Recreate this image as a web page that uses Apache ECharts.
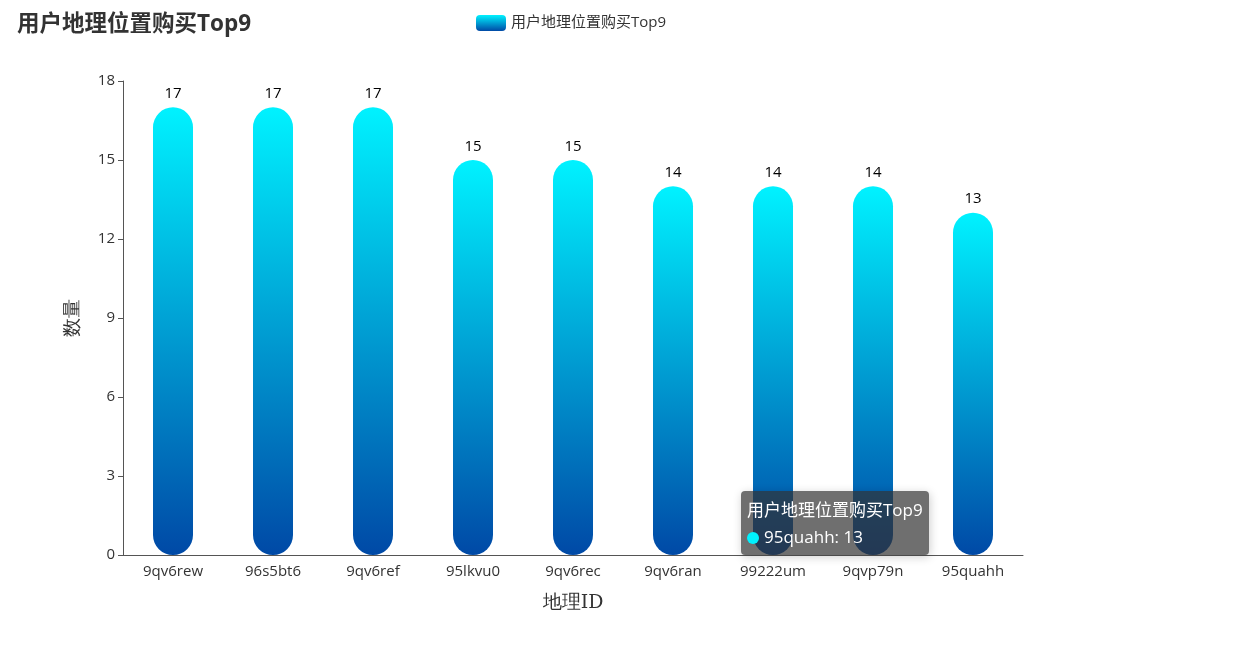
<!DOCTYPE html>
<html><head><meta charset="utf-8">
<script src="https://cdn.jsdelivr.net/npm/echarts@6/dist/echarts.min.js"></script>
<style>html,body{margin:0;padding:0;background:#fff}#c{width:1247px;height:670px}</style>
</head><body><div id="c"></div>
<script>
const categories = ['9qv6rew','96s5bt6','9qv6ref','95lkvu0','9qv6rec','9qv6ran','99222um','9qvp79n','95quahh'];
const values = [17,17,17,15,15,14,14,14,13];
const yTicks = {min:0, max:18, interval:3};
const seriesName = '用户地理位置购买Top9';

const font = '"Open Sans","Noto Sans CJK SC",sans-serif';
const serif = '"DejaVu Serif","Liberation Serif",serif';
const chart = echarts.init(document.getElementById('c'));
const grad = new echarts.graphic.LinearGradient(0,0,0,1,[{offset:0,color:'#00F2FF'},{offset:1,color:'#0049A6'}]);
chart.setOption({
  animation:false,
  textStyle:{fontFamily:font},
  title:{text:seriesName,left:12,top:8,textStyle:{fontSize:22.5,fontWeight:'bold',color:'#333',fontFamily:font}},
  legend:{top:10,left:471,itemWidth:30,itemHeight:16,itemGap:8,textStyle:{fontSize:15,color:'#333'}},
  tooltip:{trigger:'item',transitionDuration:0,backgroundColor:'rgba(50,50,50,0.7)',borderWidth:0,
    padding:[5,6],
    textStyle:{color:'#fff',fontSize:17,lineHeight:27,fontFamily:font},
    position:function(){return [741,491];},
    formatter:function(p){return '<div style="line-height:27px">'+p.seriesName+'<br/><span style="display:inline-block;vertical-align:middle;margin-right:5px;border-radius:50%;width:12px;height:12px;background-color:#00F2FF;"></span>'+p.name+': '+p.value+'</div>';}},
  grid:{left:123,right:224,top:81,bottom:115},
  xAxis:{type:'category',data:categories,name:'地理ID',nameLocation:'middle',nameGap:39,
    nameTextStyle:{fontSize:19,color:'#333',fontFamily:serif},
    axisLine:{lineStyle:{color:'#555'}},axisTick:{lineStyle:{color:'#555'}},
    axisLabel:{fontSize:15,color:'#333',margin:9}},
  yAxis:{type:'value',min:yTicks.min,max:yTicks.max,interval:yTicks.interval,name:'数量',nameLocation:'middle',nameGap:40,
    nameTextStyle:{fontSize:19,color:'#333',fontFamily:serif},
    axisLine:{show:true,lineStyle:{color:'#555'}},axisTick:{show:true,lineStyle:{color:'#555'}},
    splitLine:{show:false},axisLabel:{fontSize:15,color:'#333'}},
  series:[{type:'bar',name:seriesName,data:values,barWidth:40,
    itemStyle:{color:grad,borderRadius:20},
    label:{show:true,position:'top',distance:6,fontSize:15,color:'#000'}}]
});
chart.dispatchAction({type:'showTip',seriesIndex:0,dataIndex:8});
</script></body></html>
